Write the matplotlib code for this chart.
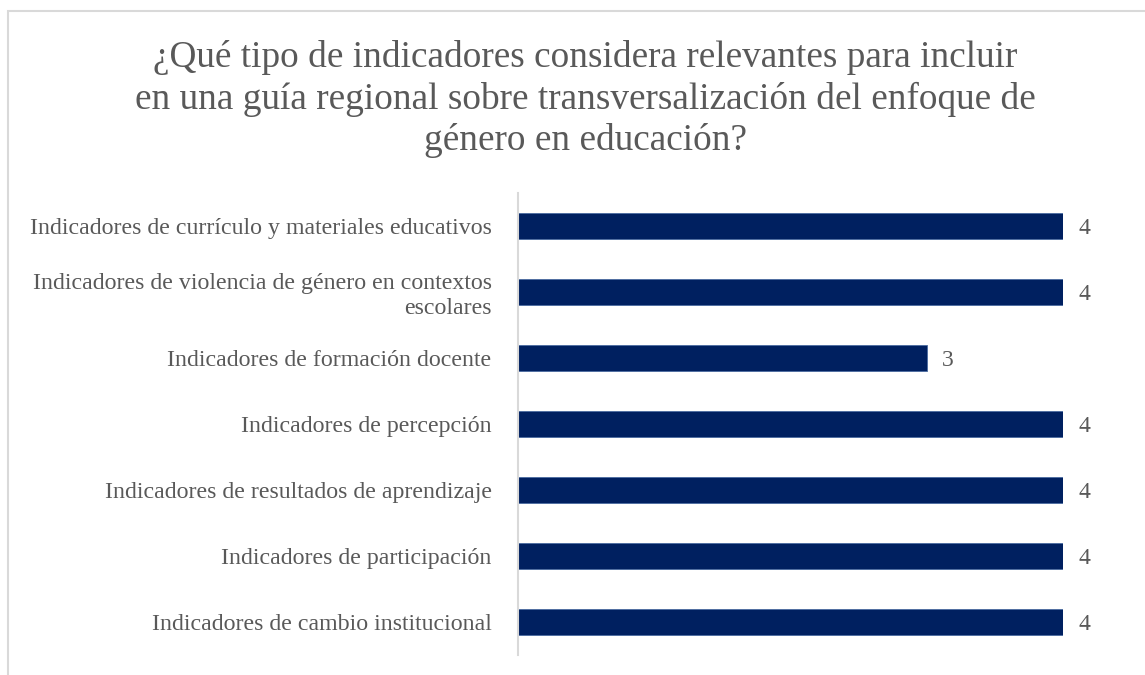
import matplotlib.pyplot as plt
from matplotlib.patches import Rectangle

# Data (top to bottom as shown)
categorias = [
    "Indicadores de currículo y materiales educativos",
    "Indicadores de violencia de género en contextos\nescolares",
    "Indicadores de formación docente",
    "Indicadores de percepción",
    "Indicadores de resultados de aprendizaje",
    "Indicadores de participación",
    "Indicadores de cambio institucional",
]
valores = [4, 4, 3, 4, 4, 4, 4]

titulo = ("¿Qué tipo de indicadores considera relevantes para incluir\n"
          "en una guía regional sobre transversalización del enfoque de\n"
          "género en educación?")

plt.rcParams['font.family'] = ['Liberation Serif', 'DejaVu Serif']
gris = '#595959'

fig = plt.figure(figsize=(11.45, 6.75), dpi=100)

# light chart frame
fig.patches.append(Rectangle((8 / 1145, -0.1), 1.2, (675 - 11) / 675 + 0.1,
                             transform=fig.transFigure, fill=False,
                             edgecolor='#d9d9d9', linewidth=1.5))

ax = fig.add_axes([518 / 1145, 20 / 675, (1063 - 518) / 1145, (655 - 193) / 675])

y = list(range(len(categorias)))[::-1]
ax.barh(y, valores, height=0.39, color='#002060', edgecolor='#4a6aa0', linewidth=0.6)

for yi, v in zip(y, valores):
    ax.annotate(str(v), (v, yi), xytext=(11, 0), textcoords='offset points',
                va='center_baseline', ha='left', fontsize=17, color=gris,
                annotation_clip=False)

ax.set_xlim(0, 4)
ax.set_ylim(-0.5, len(categorias) - 0.5)
ax.set_yticks(y)
ax.set_yticklabels(categorias, fontsize=17.2, color=gris, linespacing=1.22)
ax.tick_params(axis='y', length=0, pad=19)
ax.set_xticks([])
for s in ['top', 'right', 'bottom']:
    ax.spines[s].set_visible(False)
ax.spines['left'].set_color('#d9d9d9')
ax.spines['left'].set_linewidth(1.5)

fig.text(585 / 1145, 1 - 99 / 675, titulo, ha='center', va='center',
         fontsize=26.8, color=gris, linespacing=1.25)

fig.savefig('out.png', dpi=100)
